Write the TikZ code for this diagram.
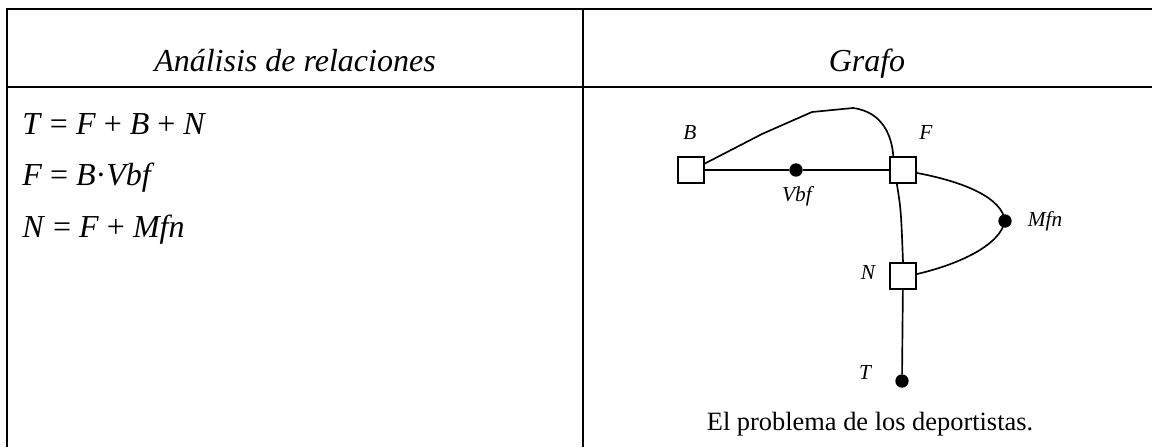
\documentclass[tikz,border=0pt]{standalone}
\usepackage{fontspec}
\setmainfont{Liberation Serif}
\begin{document}
\begin{tikzpicture}[x=0.75pt,y=-0.75pt,
  tline/.style={line width=1.6pt},
  gline/.style={line width=1.25pt},
  sq/.style={draw,line width=1.25pt,minimum size=19.5pt,inner sep=0pt,fill=white},
  dot/.style={circle,fill=black,minimum size=10pt,inner sep=0pt},
  lab/.style={inner sep=0pt,font=\fontsize{16}{18}\selectfont\itshape},
  hdr/.style={inner sep=0pt,anchor=base,font=\fontsize{24}{28}\selectfont\itshape},
  eq/.style={inner sep=0pt,anchor=base west,font=\fontsize{24}{28}\selectfont},
  captxt/.style={inner sep=0pt,anchor=base,font=\fontsize{19.8}{23}\selectfont}]
\useasboundingbox (0,0) rectangle (1152,447);
% table
\coordinate (tl) at (6,9);
\coordinate (tr) at (1152,9);
\coordinate (ml) at (6,87);
\coordinate (mr) at (1152,87);
\coordinate (bl) at (7,447);
\coordinate (mt) at (583,9);
\coordinate (mb) at (583,447);
\coordinate (lt) at (7,9);
\draw[tline] (tl) -- (tr);
\draw[tline] (ml) -- (mr);
\draw[tline] (lt) -- (bl);
\draw[tline] (mt) -- (mb);
% headers
\node[hdr] (h1) at (295,71) {Análisis de relaciones};
\node[hdr] (h2) at (867,71) {Grafo};
% equations
\node[eq] (e1) at (22,134) {\textit{T} = \textit{F} + \textit{B} + \textit{N}};
\node[eq] (e2) at (22,185) {\textit{F} = \textit{B}·\textit{Vbf}};
\node[eq] (e3) at (22,237) {\textit{N} = \textit{F} + \textit{Mfn}};
% graph nodes
\node[sq] (B) at (691,170) {};
\node[sq] (F) at (903,170) {};
\node[sq] (N) at (903,276) {};
\node[dot] (Vbf) at (796,170) {};
\node[dot] (Mfn) at (1005,221) {};
\node[dot] (T) at (902,381) {};
% connectors
\draw[gline] (B) -- (Vbf) -- (F);
\draw[gline] (B.25) -- (762,134) -- (812,112) -- (853,108) .. controls (884,112) and (892,138) .. (F.125);
\draw[gline] (F.-114) .. controls (901,210) .. (N.north);
\draw[gline] (F.-12) .. controls (965,182) and (1002,198) .. (Mfn.center);
\draw[gline] (Mfn.center) .. controls (1000,245) and (960,264) .. (N.8);
\draw[gline] (N) -- (T);
\node[sq] at (B) {};
\node[sq] at (F) {};
\node[sq] at (N) {};
% labels
\node[lab] (lB) at (690,133) {B};
\node[lab] (lF) at (926,133) {F};
\node[lab] (lV) at (797,196) {Vbf};
\node[lab] (lN) at (868,273) {N};
\node[lab] (lM) at (1045,221) {Mfn};
\node[lab] (lT) at (865,373) {T};
% caption
\node[captxt] (c) at (870,430) {El problema de los deportistas.};
\end{tikzpicture}
\end{document}
